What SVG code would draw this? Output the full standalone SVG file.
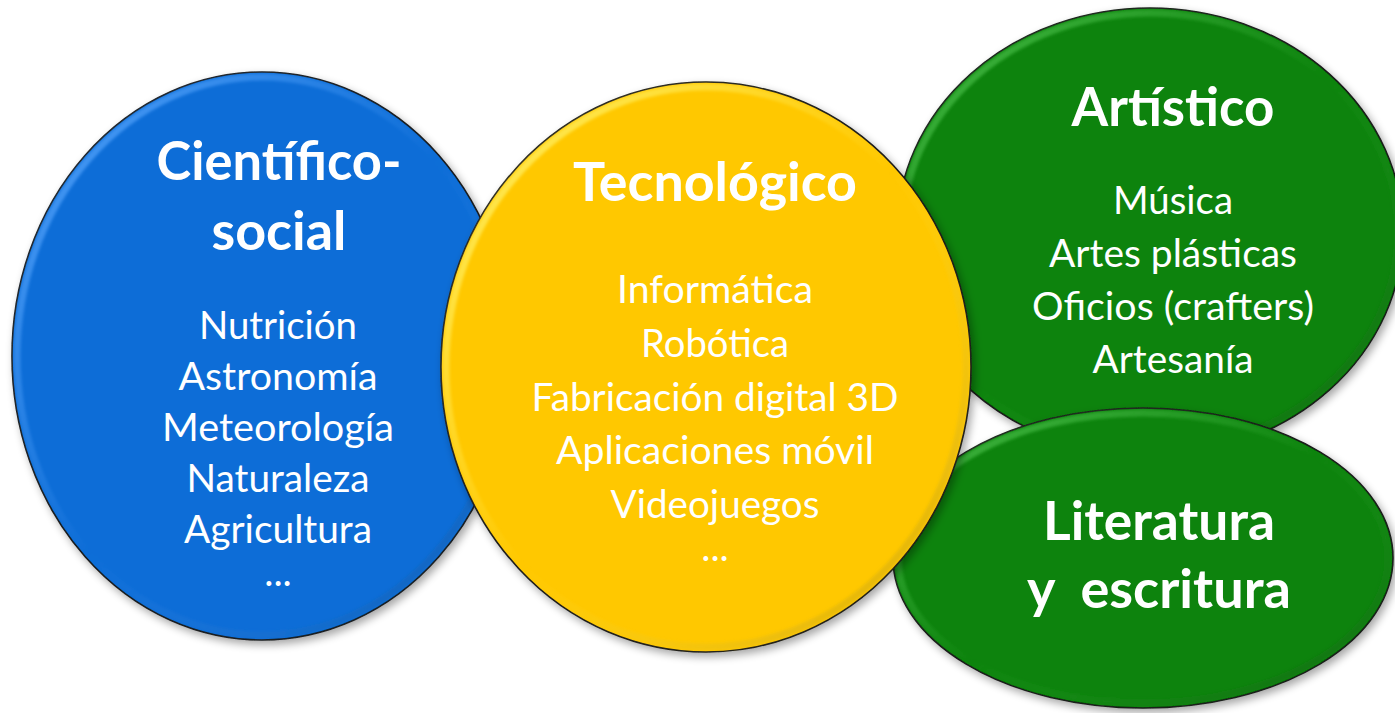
<svg xmlns="http://www.w3.org/2000/svg" width="1395" height="713" viewBox="0 0 1395 713">
<defs>
<style>
.shape{stroke:#1a1a1a;stroke-width:1.6}
.hl{fill:none;stroke-width:7;filter:url(#soft)}
.title{font-family:Lato,"Liberation Sans",sans-serif;font-weight:bold;fill:#fff;text-anchor:middle;font-size:53px}
.body{font-family:Lato,"Liberation Sans",sans-serif;fill:#fff;text-anchor:middle;font-size:39px}
</style>
<filter id="shadow" x="-10%" y="-10%" width="125%" height="125%">
<feGaussianBlur in="SourceAlpha" stdDeviation="4"/>
<feOffset dx="3" dy="4" result="b"/>
<feComponentTransfer><feFuncA type="linear" slope="0.35"/></feComponentTransfer>
<feMerge><feMergeNode/><feMergeNode in="SourceGraphic"/></feMerge>
</filter>
<filter id="soft"><feGaussianBlur stdDeviation="1.8"/></filter>
<linearGradient id="hlb" x1="0" y1="0" x2="1" y2="1">
<stop offset="0" stop-color="#5aa8ff" stop-opacity="0.9"/><stop offset="0.5" stop-color="#5aa8ff" stop-opacity="0"/><stop offset="1" stop-color="#003f80" stop-opacity="0.5"/>
</linearGradient>
<linearGradient id="hly" x1="0" y1="0" x2="1" y2="1">
<stop offset="0" stop-color="#fff36a" stop-opacity="0.95"/><stop offset="0.5" stop-color="#fff36a" stop-opacity="0"/><stop offset="1" stop-color="#a07a00" stop-opacity="0.5"/>
</linearGradient>
<linearGradient id="hlg" x1="0" y1="0" x2="1" y2="1">
<stop offset="0" stop-color="#4cc24c" stop-opacity="0.9"/><stop offset="0.5" stop-color="#4cc24c" stop-opacity="0"/><stop offset="1" stop-color="#004000" stop-opacity="0.5"/>
</linearGradient>
</defs>

<g id="cientifico">
<ellipse class="shape" cx="262" cy="356" rx="250" ry="284" fill="#076dd7" filter="url(#shadow)"/>
<ellipse class="hl" cx="262" cy="356" rx="245" ry="279" stroke="url(#hlb)"/>
<text class="title" x="279" y="180" textLength="245" lengthAdjust="spacingAndGlyphs">Científico-</text>
<text class="title" x="279" y="250" textLength="135" lengthAdjust="spacingAndGlyphs">social</text>
<text class="body" x="278" y="339" textLength="158" lengthAdjust="spacingAndGlyphs">Nutrición</text>
<text class="body" x="278" y="390" textLength="199" lengthAdjust="spacingAndGlyphs">Astronomía</text>
<text class="body" x="278" y="441" textLength="232" lengthAdjust="spacingAndGlyphs">Meteorología</text>
<text class="body" x="278" y="492" textLength="183" lengthAdjust="spacingAndGlyphs">Naturaleza</text>
<text class="body" x="278" y="543" textLength="188" lengthAdjust="spacingAndGlyphs">Agricultura</text>
<text class="body" x="278" y="586">...</text>
</g>

<g id="artistico">
<ellipse class="shape" cx="1150" cy="232" rx="253" ry="224" fill="#078307" filter="url(#shadow)"/>
<ellipse class="hl" cx="1150" cy="232" rx="248" ry="219" stroke="url(#hlg)"/>
<text class="title" x="1173" y="126" textLength="203" lengthAdjust="spacingAndGlyphs">Artístico</text>
<text class="body" x="1173" y="214" textLength="120" lengthAdjust="spacingAndGlyphs">Música</text>
<text class="body" x="1173" y="267" textLength="248" lengthAdjust="spacingAndGlyphs">Artes plásticas</text>
<text class="body" x="1173" y="320" textLength="282" lengthAdjust="spacingAndGlyphs">Oficios (crafters)</text>
<text class="body" x="1173" y="373" textLength="161" lengthAdjust="spacingAndGlyphs">Artesanía</text>
</g>

<g id="literatura">
<ellipse class="shape" cx="1143" cy="558" rx="250" ry="150" fill="#078307" filter="url(#shadow)"/>
<ellipse class="hl" cx="1143" cy="558" rx="245" ry="145" stroke="url(#hlg)"/>
<text class="title" x="1159" y="540" textLength="232" lengthAdjust="spacingAndGlyphs">Literatura</text>
<text class="title" x="1159" y="608" textLength="264" lengthAdjust="spacingAndGlyphs" xml:space="preserve">y  escritura</text>
</g>

<g id="tecnologico">
<ellipse class="shape" cx="706" cy="367" rx="265" ry="285" fill="#ffc805" filter="url(#shadow)"/>
<ellipse class="hl" cx="706" cy="367" rx="260" ry="280" stroke="url(#hly)"/>
<text class="title" x="715" y="201" textLength="284" lengthAdjust="spacingAndGlyphs">Tecnológico</text>
<text class="body" x="715" y="303" textLength="196" lengthAdjust="spacingAndGlyphs">Informática</text>
<text class="body" x="715" y="357" textLength="148" lengthAdjust="spacingAndGlyphs">Robótica</text>
<text class="body" x="715" y="411" textLength="367" lengthAdjust="spacingAndGlyphs">Fabricación digital 3D</text>
<text class="body" x="715" y="464" textLength="318" lengthAdjust="spacingAndGlyphs">Aplicaciones móvil</text>
<text class="body" x="715" y="518" textLength="209" lengthAdjust="spacingAndGlyphs">Videojuegos</text>
<text class="body" x="715" y="561">...</text>
</g>

<g id="connectors"></g>
</svg>
